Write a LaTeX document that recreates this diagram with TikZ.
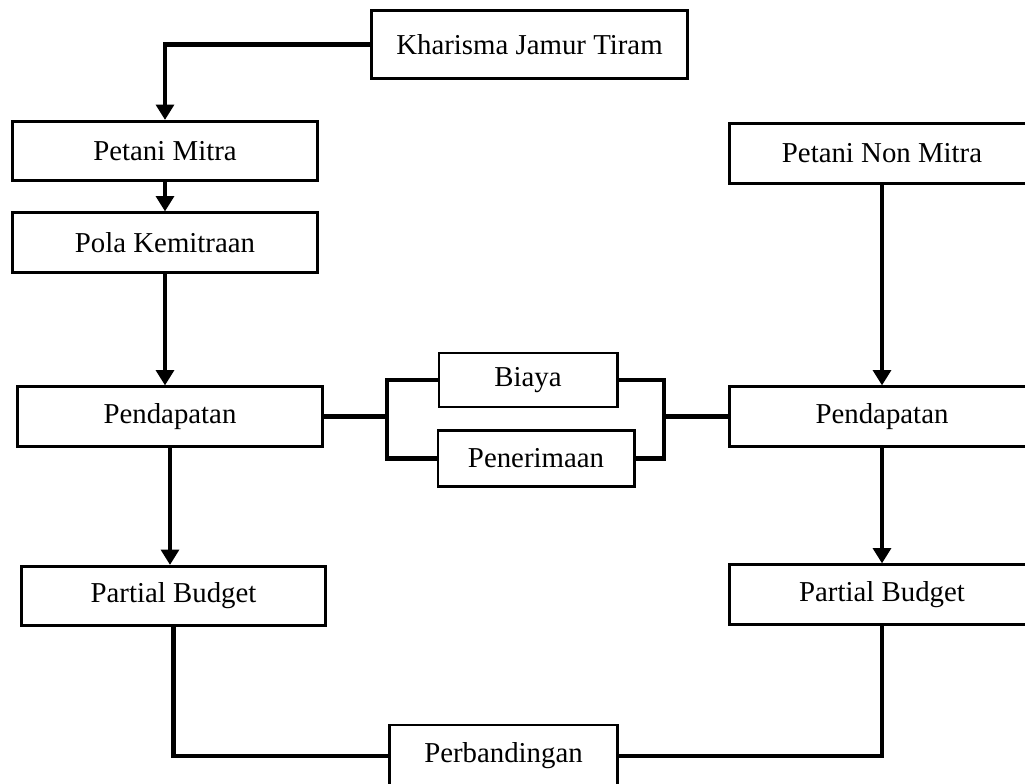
\documentclass[tikz,border=0pt]{standalone}
\usepackage{fontspec}
\setmainfont{Liberation Serif}
\usetikzlibrary{arrows.meta}

\begin{document}
\begin{tikzpicture}[x=0.025cm,y=-0.025cm,
    box/.style={draw,line width=2.1pt,minimum width=7.6cm,minimum height=1.48cm,inner sep=0pt,font=\fontsize{20.5}{24}\selectfont},
    link/.style={line width=3.4pt},
    arr/.style={link,-{Triangle[length=3.8mm,width=4.4mm]}}]
  \useasboundingbox (0,0) rectangle (1025,783);
  \clip (0,0) rectangle (1025,783);
  \node[box,minimum width=7.875cm,minimum height=1.68cm] (kjt) at (529.5,44.5) {Kharisma Jamur Tiram};
  \node[box] (pm) at (165,151) {Petani Mitra};
  \node[box] (pk) at (165,242.5) {Pola Kemitraan};
  \node[box] (pnm) at (882,153.5) {Petani Non Mitra};
  \node[box] (pdl) at (170,416.5) {Pendapatan};
  \node[box] (pdr) at (882,416.5) {Pendapatan};
  \node[box,minimum width=4.45cm,minimum height=1.35cm] (by) at (528,380) {Biaya};
  \node[box,minimum width=4.9cm,minimum height=1.38cm] (pn) at (536,458.5) {Penerimaan};
  \node[box] (pbl) at (173.5,596) {Partial Budget};
  \node[box] (pbr) at (882,594.5) {Partial Budget};
  \node[box,minimum width=5.675cm,minimum height=1.55cm] (pb) at (503.5,756) {Perbandingan};
  \coordinate (jl) at (387,416.5);
  \coordinate (jr) at (664,416.5);
  \draw[arr] (kjt.west) -| (pm.north);
  \draw[arr] (pm) -- (pk);
  \draw[arr] (pk.south) -- (pk.south |- pdl.north);
  \draw[arr] (pnm) -- (pdr);
  \draw[arr] (pdl.south) -- (pdl.south |- pbl.north);
  \draw[arr] (pdr) -- (pbr);
  \draw[link] (pdl) -- (jl);
  \draw[link] (by.west) -| (jl) |- (pn.west);
  \draw[link] (by.east) -| (jr) |- (pn.east);
  \draw[link] (jr) -- (pdr);
  \draw[link] (pbl.south) |- (pb.west);
  \draw[link] (pb.east) -| (pbr.south);
\end{tikzpicture}
\end{document}
